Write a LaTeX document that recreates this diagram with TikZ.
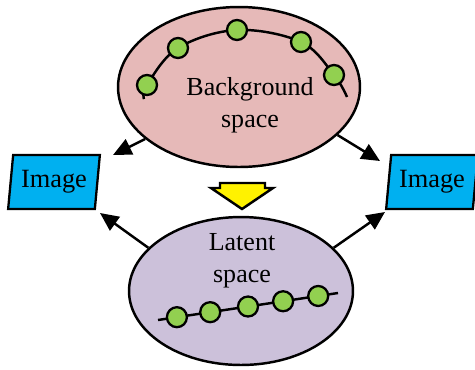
\documentclass[tikz,border=0pt]{standalone}
\usepackage{fontspec}
\setmainfont{Liberation Serif}
\usepackage{tikz}
\usetikzlibrary{arrows.meta,calc,shapes.geometric}
\definecolor{bgpink}{HTML}{E6B9B8}
\definecolor{latpurple}{HTML}{CCC1DA}
\definecolor{dotgreen}{HTML}{92D050}
\definecolor{imgblue}{HTML}{00B0F0}
\tikzset{
	space/.style={ellipse, draw, line width=1.4pt, inner sep=0pt},
	imgbox/.style={trapezium, trapezium left angle=80, trapezium right angle=100, trapezium stretches=true,
		draw, line width=1.3pt, fill=imgblue, inner sep=0pt, minimum width=1.84cm, minimum height=1.08cm,
		font=\fontsize{15}{18}\selectfont},
	lbl/.style={align=center, font=\fontsize{14.8}{18.2}\selectfont},
	pt/.style={circle, draw, line width=1.3pt, fill=dotgreen, inner sep=0pt, minimum size=0.4cm},
	flow/.style={line width=1.4pt, -{Triangle[length=10.5pt,width=9.5pt]}}
}

\begin{document}
\begin{tikzpicture}[x=0.02cm, y=-0.02cm]
		%%%%% START %%%%%
		\useasboundingbox (0, 0) rectangle (475, 369);
		
		\node[space, fill=bgpink, minimum width=4.84cm, minimum height=3.2cm] (bg) at (239, 87) {};
		\node[space, fill=latpurple, minimum width=4.48cm, minimum height=2.96cm] (lat) at (241, 291) {};
		
		\node[lbl] (bgtext) at (250, 105) {Background\\space};
		\node[lbl] (lattext) at (242, 261) {Latent\\space};
		
		\node[imgbox] (imgl) at (54, 182) {Image};
		\node[imgbox] (imgr) at (432, 182) {Image};
		
		% curve in background space
		\draw[line width=1.4pt] plot[smooth, tension=0.6] coordinates {(144, 99) (147, 85) (178, 48) (237, 30) (301, 42) (334, 75) (347, 97)};
		\node[pt] (b1) at (147, 85) {};
		\node[pt] (b2) at (178, 48) {};
		\node[pt] (b3) at (237, 30) {};
		\node[pt] (b4) at (301, 42) {};
		\node[pt] (b5) at (334, 75) {};
		
		% line in latent space
		\coordinate (la) at (158, 320);
		\coordinate (lb) at (338, 293);
		\draw[line width=1.4pt] (la) -- (lb);
		\node[pt] (l1) at ($(la)!0.105!(lb)$) {};
		\node[pt] (l2) at ($(la)!0.29!(lb)$) {};
		\node[pt] (l3) at ($(la)!0.5!(lb)$) {};
		\node[pt] (l4) at ($(la)!0.695!(lb)$) {};
		\node[pt] (l5) at ($(la)!0.89!(lb)$) {};
		
		% arrows
		\coordinate (tl) at (113, 155);
		\coordinate (tr) at (380, 161);
		\coordinate (bl) at (100, 213);
		\coordinate (br) at (385, 212);
		\draw[flow] (bg.209) -- (tl);
		\draw[flow] (bg.334) -- (tr);
		\draw[flow] (lat.155) -- (bl);
		\draw[flow] (lat.25) -- (br);
		
		\draw[line width=1.4pt, fill=yellow, line join=miter] (220, 183) -- (265, 183) -- (265, 188) -- (273, 188) -- (242, 209) -- (211, 188) -- (220, 188) -- cycle;
		
		%%%%% END %%%%%
	\end{tikzpicture}
\end{document}
